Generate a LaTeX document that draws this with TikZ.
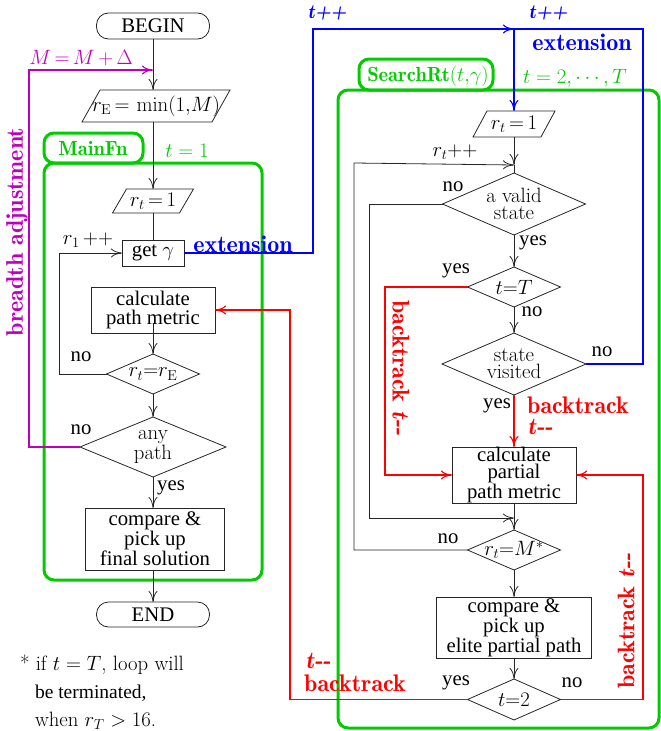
\RequirePackage{fix-cm}
\documentclass[tikz,border=0pt]{standalone}
\usepackage[no-math]{fontspec}
\setmainfont{Liberation Serif}
\usetikzlibrary{shapes.geometric,arrows.meta,calc}
\definecolor{mygreen}{RGB}{0,204,0}
\definecolor{mymag}{RGB}{190,0,190}
\definecolor{myblue}{RGB}{0,0,255}
\definecolor{myred}{RGB}{255,0,0}
\newcommand\myeq{\mskip3mu{=}\mskip3mu}
\newcommand\lmb{\fontfamily{lmr}\bfseries}
\newcommand\dm{-{}-}
\newcommand\paraoutline[2]{\draw[draw=black!85, line width=0.8pt] ($(#1.south west)+(-#2,0)$) -- ($(#1.north west)+(#2,0)$) -- ($(#1.north east)+(#2,0)$) -- ($(#1.south east)+(-#2,0)$) -- cycle;}
\begin{document}
\begin{tikzpicture}[x=1pt,y=-1pt,
  every node/.style={inner sep=0pt, outer sep=0pt},
  txt/.style={font=\fontsize{20.74}{19}\selectfont, align=center},
  dtxt/.style={font=\fontsize{20.74}{17}\fontfamily{lmr}\selectfont, align=center},
  shp/.style={draw=black!85, line width=0.8pt, inner sep=0pt, txt},
  box/.style={shp, rectangle},
  term/.style={shp, rectangle, rounded corners=12pt},
  dia/.style={shp, diamond},
  para/.style={rectangle, inner sep=0pt, txt},
  conn/.style={draw=black!85, line width=0.8pt},
  arr/.style={conn, -{Computer Modern Rightarrow[length=11pt,width=9pt]}},
  carr/.style={line width=1.1pt, -{Computer Modern Rightarrow[length=11pt,width=9pt]}},
  grn/.style={draw=mygreen, line width=3pt, rounded corners=10pt},
  boldlab/.style={font=\fontsize{24}{24}\lmb},
  glab/.style={font=\fontsize{20.5}{20.5}\lmb, text=mygreen},
]
\useasboundingbox (0,0) rectangle (661,731);

% green frames
\draw[grn] (44,163) rectangle (262,580);
\draw[grn] (44,133) rectangle (143,163);
\draw[grn] (338,90) rectangle (659,728);
\draw[grn] (359,59) rectangle (493,90);
\node[glab] (mainfn) at (93,149) {MainFn};
\node[txt, text=mygreen] (t1lab) at (187,151) {$t = 1$};
\node[glab] (searchrt) at (428,76) {SearchRt$(t{,}\gamma)$};
\node[txt, text=mygreen] (tTlab) at (575,78) {$t = 2, \cdots, T$};

% left column
\node[term, minimum width=113, minimum height=26] (begin) at (153,26) {BEGIN};
\node[para, minimum width=130, minimum height=32] (rE) at (156,106) {$r_{\mathrm E}\myeq\min(1{,}M)$};
\paraoutline{rE}{9}
\node[para, minimum width=67, minimum height=24] (rt1) at (153,201) {$r_t\myeq 1$};
\paraoutline{rt1}{7}
\node[box, minimum width=62, minimum height=26] (get) at (153,253) {get $\gamma$};
\node[box, minimum width=124, minimum height=46] (calc) at (153,310) {calculate\\path metric};
\node[dia, minimum width=93, minimum height=40] (rr) at (153,374) {};
\node[txt] (rrt) at (rr) {$r_t{=}r_{\mathrm E}$};
\node[dia, minimum width=146, minimum height=60] (any) at (153,447) {};
\node[dtxt] (anyt) at (any) {any\\path};
\node[box, minimum width=139, minimum height=62, font=\fontsize{20.74}{18}\selectfont] (cmpF) at (155,539) {compare \&\\pick up\\final solution};
\node[term, minimum width=113, minimum height=25] (end) at (153,614.5) {END};

% right column
\node[para, minimum width=68, minimum height=26] (rt1R) at (514,124) {$r_t\myeq 1$};
\paraoutline{rt1R}{7}
\node[dia, minimum width=143, minimum height=62] (valid) at (514,204) {};
\node[dtxt] (validt) at (valid) {a valid\\state};
\node[dia, minimum width=93, minimum height=40] (tT) at (514,287) {};
\node[txt] (tTt) at (tT) {$t{=}T$};
\node[dia, minimum width=144, minimum height=62] (visited) at (514,364) {};
\node[dtxt] (visitedt) at (visited) {state\\visited};
\node[box, minimum width=124, minimum height=56, font=\fontsize{20.74}{17}\selectfont] (calcp) at (514,475) {calculate\\partial\\path metric};
\node[dia, minimum width=93, minimum height=40] (rM) at (514,550) {};
\node[txt] (rMt) at (rM) {$r_t{=}M^*$};
\node[box, minimum width=155, minimum height=61, font=\fontsize{20.74}{20}\selectfont] (cmpE) at (514,627.5) {compare \&\\pick up\\elite partial path};
\node[dia, minimum width=93, minimum height=41] (t2) at (514,699.5) {};
\node[txt] (t2t) at (t2) {$t{=}2$};

\coordinate (mj) at (153,70);
\coordinate (bj) at (514,29);
\coordinate (jR) at (514,165);
\coordinate (j2) at (514,518);

% left connectors
\draw[arr] (begin.south) -- (begin.south |- rE.north);
\draw[arr] (rE.south -| begin.south) -- (rt1.north);
\draw[conn] (rt1.south) -- (get.north);
\draw[arr] ($(calc.south)+(0,-10)$) -- (rr.north);
\draw[arr] (rr.west) -- ++(-47,0) |- (get.west);
\draw[arr] (rr.south) -- (any.north);
\draw[arr] (any.south) -- (any.south |- cmpF.north);
\draw[arr] (cmpF.south -| end.north) -- (end.north);
\draw[carr, mymag] (any.west) -- ++(-51,0) |- (mj);
\draw[carr, myblue] (get.east) -| (313,29) -- (bj);

% right connectors
\draw[carr, myblue] (visited.east) -| (643,29) -- (bj) -- (rt1R.north);
\draw[arr] (rt1R.south) -- (jR);
\draw[conn] (jR) -- (valid.north);
\draw[arr] (rM.west) -| (354,163) -- (jR);
\draw[arr] (valid.west) -| (369,518) -- (j2);
\draw[arr] (valid.south) -- (tT.north);
\draw[arr] (tT.south) -- (visited.north);
\draw[carr, myred] (visited.south) -- (calcp.north);
\draw[carr, myred] (tT.west) -| (385,475) -- (calcp.west);
\draw[arr] (calcp.south) -- (rM.north);
\draw[arr] (rM.south) -- (cmpE.north);
\draw[arr] (cmpE.south) -- (t2.north);
\draw[carr, myred] (t2.west) -| (290,310) -- (calc.east);
\draw[carr, myred] (t2.east) -| (643,475) -- (calcp.east);

% labels
\node[txt, text=mymag] (mlab) at (81,58) {$M\myeq M\mskip3mu{+}\mskip3mu\Delta$};
\node[boldlab, text=mymag, rotate=90] (bread) at (17,232) {breadth adjustment};
\node[txt] (r1lab) at (88,240) {$r_1\,{+}{+}$};
\node[boldlab, text=myblue] (ext1) at (243,244) {extension};
\node[txt] (no1) at (81,357) {no};
\node[txt] (no2) at (81,430) {no};
\node[txt] (yes1) at (171,488) {yes};

\node[text=myblue, font=\fontsize{20}{20}\lmb\itshape] (tpp1) at (327,13) {t++};
\node[text=myblue, font=\fontsize{20}{20}\lmb\itshape] (tpp2) at (548,13) {t++};
\node[boldlab, text=myblue] (ext2) at (582,42) {extension};
\node[txt] (rtpp) at (455,152) {$r_t{+}{+}$};
\node[txt] (no3) at (453,187) {no};
\node[txt] (yes2) at (533,243) {yes};
\node[txt] (yes3) at (456,271) {yes};
\node[txt] (no4) at (532,312) {no};
\node[txt] (no5) at (602,352) {no};
\node[boldlab, text=myred, rotate=-90] (bt1) at (401,368) {backtrack {\itshape t\dm}};
\node[txt] (yes4) at (497,406) {yes};
\node[boldlab, text=myred] (bt2) at (578,405) {backtrack};
\node[boldlab, text=myred] (tmm1) at (540,427) {\itshape t\dm};
\node[txt] (no6) at (448,539) {no};
\node[boldlab, text=myred, rotate=90] (bt3) at (626,621) {backtrack {\itshape t\dm}};
\node[boldlab, text=myred] (tmm2) at (318,661) {\itshape t\dm};
\node[boldlab, text=myred] (bt4) at (355,683) {backtrack};
\node[txt] (yes5) at (456,683) {yes};
\node[txt] (no7) at (572,683) {no};

% footnote
\node[anchor=base west, font=\fontsize{20.74}{20}\fontfamily{lmr}\selectfont] (fn1) at (20,670) {* if $t = T$, loop will};
\node[anchor=base west, font=\fontsize{19.5}{20}\selectfont] (fn2) at (35,698) {be terminated,};
\node[anchor=base west, font=\fontsize{20.74}{20}\fontfamily{lmr}\selectfont] (fn3) at (35,726) {when $r_T > 16$.};
\end{tikzpicture}
\end{document}
